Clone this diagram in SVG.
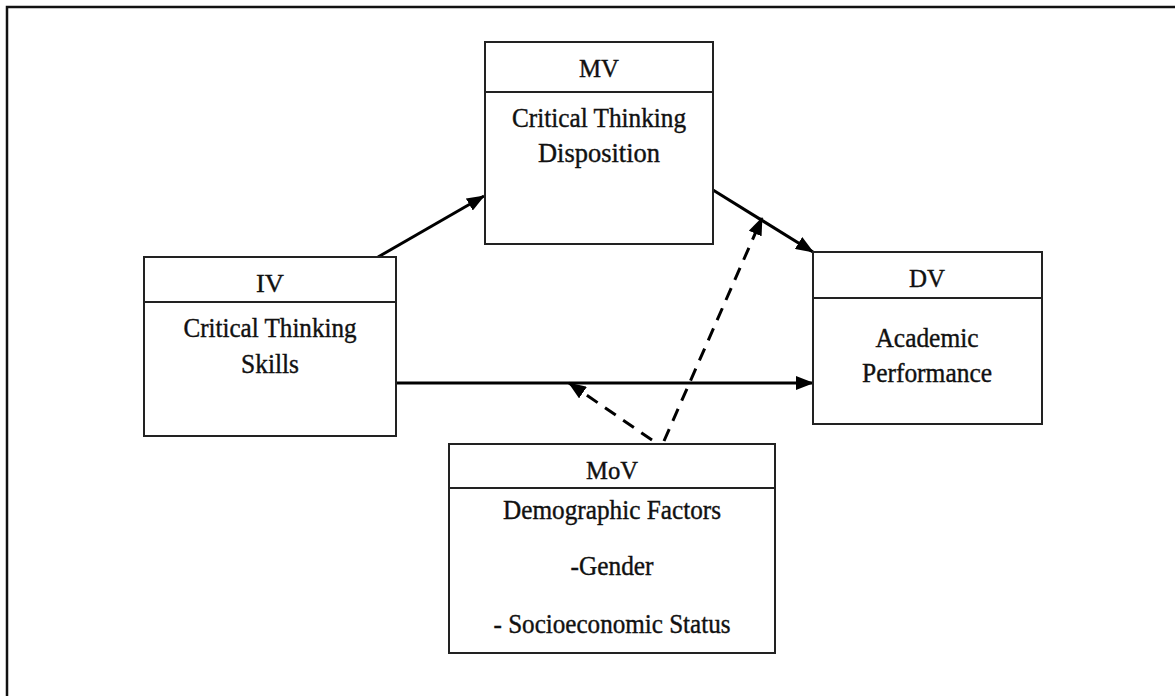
<svg xmlns="http://www.w3.org/2000/svg" width="1175" height="696" viewBox="0 0 1175 696">
<style>
.box{fill:#fff;stroke:#222;stroke-width:2}
.div{stroke:#222;stroke-width:2}
.t{font-family:"Liberation Serif","Times New Roman",serif;font-size:27px;fill:#111;text-anchor:middle;stroke:#111;stroke-width:0.4}
.h{font-size:26px}
.arr{stroke:#000;stroke-width:3;fill:none;marker-end:url(#ah)}
.dash{stroke:#000;stroke-width:3;fill:none;stroke-dasharray:13 9;marker-end:url(#ah)}
</style>
<defs>
<marker id="ah" viewBox="0 0 18 14" refX="17" refY="7" markerWidth="18" markerHeight="14" markerUnits="userSpaceOnUse" orient="auto">
<path d="M0,0 L18,7 L0,14 Z" fill="#000"/>
</marker>
</defs>
<rect width="1175" height="696" fill="#fff"/>
<rect x="7" y="7" width="1200" height="720" fill="none" stroke="#111" stroke-width="2.5"/>
<g id="connectors">
<line class="arr" x1="378" y1="257" x2="484" y2="196"/>
<line class="arr" x1="713" y1="190" x2="813" y2="252"/>
<line class="arr" x1="396" y1="383" x2="813" y2="383"/>
<line class="dash" x1="664" y1="441" x2="762" y2="218"/>
<line class="dash" x1="652" y1="440" x2="569" y2="383"/>
</g>
<g id="mv">
<rect class="box" x="485" y="42" width="228" height="202"/>
<line class="div" x1="485" y1="92" x2="713" y2="92"/>
<text class="t h" x="599" y="77" textLength="40" lengthAdjust="spacingAndGlyphs">MV</text>
<text class="t" x="599" y="127" textLength="174" lengthAdjust="spacingAndGlyphs">Critical Thinking</text>
<text class="t" x="599" y="162" textLength="122" lengthAdjust="spacingAndGlyphs">Disposition</text>
</g>
<g id="iv">
<rect class="box" x="144" y="257" width="252" height="179"/>
<line class="div" x1="144" y1="302" x2="396" y2="302"/>
<text class="t h" x="270" y="292" textLength="28" lengthAdjust="spacingAndGlyphs">IV</text>
<text class="t" x="270" y="337" textLength="173" lengthAdjust="spacingAndGlyphs">Critical Thinking</text>
<text class="t" x="270" y="373" textLength="58" lengthAdjust="spacingAndGlyphs">Skills</text>
</g>
<g id="dv">
<rect class="box" x="813" y="252" width="229" height="172"/>
<line class="div" x1="813" y1="298" x2="1042" y2="298"/>
<text class="t h" x="927" y="287" textLength="36" lengthAdjust="spacingAndGlyphs">DV</text>
<text class="t" x="927" y="347" textLength="103" lengthAdjust="spacingAndGlyphs">Academic</text>
<text class="t" x="927" y="382" textLength="130" lengthAdjust="spacingAndGlyphs">Performance</text>
</g>
<g id="mov">
<rect class="box" x="449" y="444" width="326" height="209"/>
<line class="div" x1="449" y1="488" x2="775" y2="488"/>
<text class="t h" x="612" y="479" textLength="52" lengthAdjust="spacingAndGlyphs">MoV</text>
<text class="t" x="612" y="519" textLength="218" lengthAdjust="spacingAndGlyphs">Demographic Factors</text>
<text class="t" x="612" y="575" textLength="83" lengthAdjust="spacingAndGlyphs">-Gender</text>
<text class="t" x="612" y="633" textLength="237" lengthAdjust="spacingAndGlyphs">- Socioeconomic Status</text>
</g>
</svg>
